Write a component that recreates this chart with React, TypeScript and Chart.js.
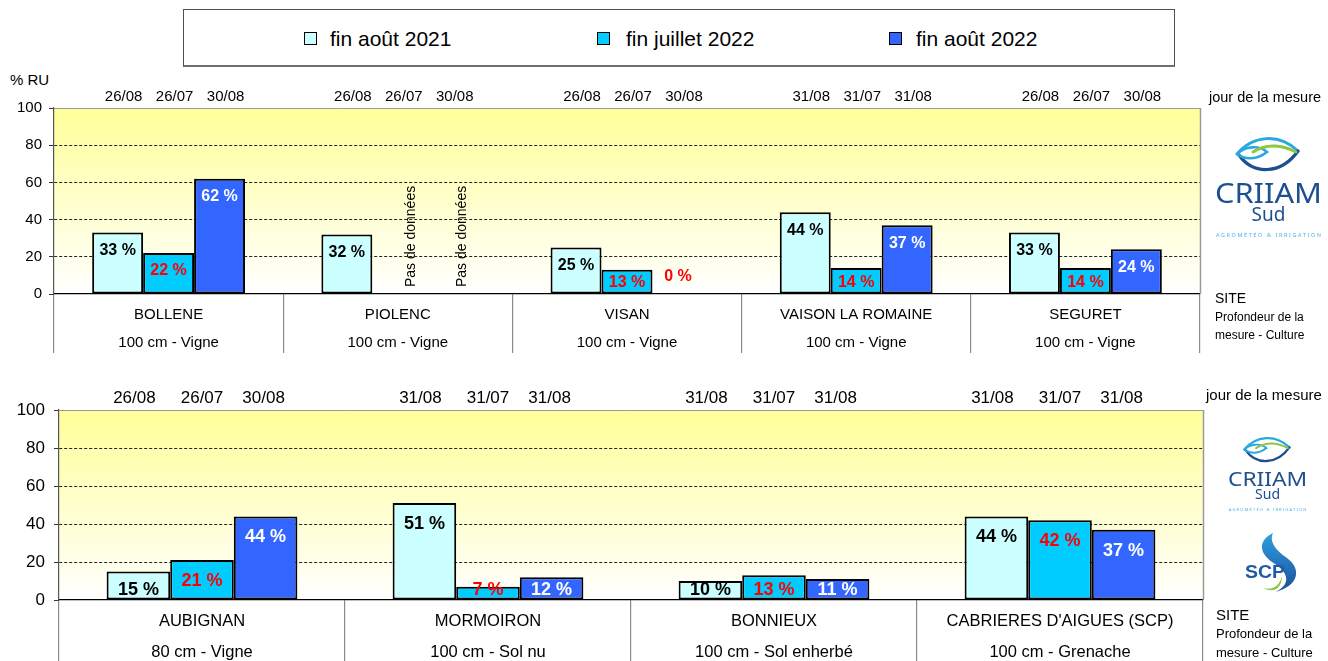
import React, { useEffect, useRef } from 'react';
import { Chart, registerables } from 'chart.js';

Chart.register(...registerables);

// ---------- DATA ----------
const seriesLabels = ['fin août 2021', 'fin juillet 2022', 'fin août 2022'];
const seriesColors = ['#CCFFFF', '#00CCFF', '#3366FF'];
const valueLabelColors = ['#000000', '#FF0000', '#FFFFFF'];
const yTickValues = [0, 20, 40, 60, 80, 100];
const noDataText = 'Pas de données';

const topSites = ['BOLLENE', 'PIOLENC', 'VISAN', 'VAISON LA ROMAINE', 'SEGURET'];
const topDepths = ['100 cm - Vigne', '100 cm - Vigne', '100 cm - Vigne', '100 cm - Vigne', '100 cm - Vigne'];
const topAug2021 = [33, 32, 25, 44, 33];
const topJul2022: (number | null)[] = [22, null, 13, 14, 14];
const topAug2022: (number | null)[] = [62, null, 0, 37, 24];
const topDatesAug2021 = ['26/08', '26/08', '26/08', '31/08', '26/08'];
const topDatesJul2022 = ['26/07', '26/07', '26/07', '31/07', '26/07'];
const topDatesAug2022 = ['30/08', '30/08', '30/08', '31/08', '30/08'];

const bottomSites = ['AUBIGNAN', 'MORMOIRON', 'BONNIEUX', "CABRIERES D'AIGUES (SCP)"];
const bottomDepths = ['80 cm - Vigne', '100 cm - Sol nu', '100 cm - Sol enherbé', '100 cm - Grenache'];
const bottomAug2021 = [15, 51, 10, 44];
const bottomJul2022 = [21, 7, 13, 42];
const bottomAug2022 = [44, 12, 11, 37];
const bottomDatesAug2021 = ['26/08', '31/08', '31/08', '31/08'];
const bottomDatesJul2022 = ['26/07', '31/07', '31/07', '31/07'];
const bottomDatesAug2022 = ['30/08', '31/08', '31/08', '31/08'];

// ---------- STYLE ----------
const FONT = "'Liberation Sans', Arial, Helvetica, sans-serif";
const CAT_PCT = 0.667;

interface PanelCfg {
  top: number;
  height: number;
  sites: string[];
  depths: string[];
  series: (number | null)[][];
  dates: string[][];
  padTop: number;
  padBottom: number;
  padRight: number;
  yAxisW: number;
  xAxisH: number;
  tickLen: number;
  xPad: number;
  xFont: number;
  xLineH: number;
  yFont: number;
  yTickLen: number;
  yPad: number;
  valFont: number;
  valOff: number;
  valMin: number;
  zeroOff: number;
  dateFont: number;
  dateDy: number;
  dateDx: number[];
  noDataDx: number;
}

const topCfg: PanelCfg = {
  top: 60,
  height: 300,
  sites: topSites,
  depths: topDepths,
  series: [topAug2021, topJul2022, topAug2022],
  dates: [topDatesAug2021, topDatesJul2022, topDatesAug2022],
  padTop: 48,
  padBottom: 6,
  padRight: 128,
  yAxisW: 54,
  xAxisH: 60,
  tickLen: 59,
  xPad: -52,
  xFont: 15,
  xLineH: 28 / 15,
  yFont: 15,
  yTickLen: 5,
  yPad: 7,
  valFont: 16,
  valOff: 18,
  valMin: 11,
  zeroOff: 17,
  dateFont: 15,
  dateDy: 11,
  dateDx: [6, 6, 6],
  noDataDx: 13,
};

const bottomCfg: PanelCfg = {
  top: 360,
  height: 301,
  sites: bottomSites,
  depths: bottomDepths,
  series: [bottomAug2021, bottomJul2022, bottomAug2022],
  dates: [bottomDatesAug2021, bottomDatesJul2022, bottomDatesAug2022],
  padTop: 50,
  padBottom: 0,
  padRight: 125,
  yAxisW: 59,
  xAxisH: 61,
  tickLen: 62,
  xPad: -56.5,
  xFont: 16.5,
  xLineH: 31 / 16.5,
  yFont: 17,
  yTickLen: 5,
  yPad: 9,
  valFont: 18,
  valOff: 21,
  valMin: 10,
  zeroOff: 17,
  dateFont: 17,
  dateDy: 12,
  dateDx: [-4, 0, -2],
  noDataDx: 13,
};

function makeBgPlugin(id: string) {
  return {
    id,
    beforeDraw(chart: any) {
      const { ctx, chartArea: a } = chart;
      const g = ctx.createLinearGradient(0, a.top, 0, a.bottom);
      g.addColorStop(0, '#FFFF99');
      g.addColorStop(1, '#FFFFFF');
      ctx.save();
      ctx.fillStyle = g;
      ctx.fillRect(a.left, a.top, a.right - a.left, a.bottom - a.top);
      ctx.restore();
    },
    beforeDatasetsDraw(chart: any) {
      const { ctx, chartArea: a } = chart;
      ctx.save();
      ctx.strokeStyle = '#9a9a9a';
      ctx.lineWidth = 1.5;
      const x = Math.round(a.right) + 0.5;
      ctx.beginPath();
      ctx.moveTo(x, a.top);
      ctx.lineTo(x, a.bottom);
      ctx.stroke();
      ctx.restore();
    },
  };
}

function makeLabelPlugin(id: string, cfg: PanelCfg) {
  return {
    id,
    afterDatasetsDraw(chart: any) {
      const { ctx, chartArea: area } = chart;
      const xs = chart.scales.x;
      const bw = ((xs.getPixelForValue(1) - xs.getPixelForValue(0)) * CAT_PCT) / 3;
      ctx.save();
      ctx.textAlign = 'center';
      ctx.textBaseline = 'middle';
      cfg.series.forEach((data, i) => {
        const meta = chart.getDatasetMeta(i);
        data.forEach((v, j) => {
          const el: any = meta.data[j];
          const x = el && isFinite(el.x) ? el.x : xs.getPixelForValue(j) + (i - 1) * bw;
          // date of measure
          ctx.font = `${cfg.dateFont}px ${FONT}`;
          ctx.fillStyle = '#000';
          ctx.fillText(cfg.dates[i][j], x + cfg.dateDx[i], area.top - cfg.dateDy);
          if (v == null) {
            ctx.save();
            ctx.translate(x + cfg.noDataDx, area.bottom - 7);
            ctx.rotate(-Math.PI / 2);
            ctx.font = `14px ${FONT}`;
            ctx.textAlign = 'left';
            ctx.fillStyle = '#000';
            ctx.fillText(noDataText, 0, 0);
            ctx.restore();
          } else {
            let y = Math.min(el.y + cfg.valOff, area.bottom - cfg.valMin);
            if (v === 0) y = area.bottom - cfg.zeroOff;
            ctx.font = `bold ${cfg.valFont}px ${FONT}`;
            ctx.fillStyle = v === 0 ? '#FF0000' : valueLabelColors[i];
            ctx.fillText(`${v} %`, x, y);
          }
        });
      });
      ctx.restore();
    },
  };
}

function Panel({ cfg, name }: { cfg: PanelCfg; name: string }) {
  const ref = useRef<HTMLCanvasElement>(null);
  useEffect(() => {
    const chart = new Chart(ref.current as HTMLCanvasElement, {
      type: 'bar',
      data: {
        labels: cfg.sites.map((s, i) => [s, cfg.depths[i]]),
        datasets: cfg.series.map((d, i) => ({
          label: seriesLabels[i],
          data: d,
          backgroundColor: seriesColors[i],
          borderColor: '#000000',
          borderWidth: 2,
          borderSkipped: false,
          categoryPercentage: CAT_PCT,
          barPercentage: 1,
        })),
      } as any,
      options: {
        responsive: false,
        animation: false,
        events: [],
        layout: { padding: { left: 0, right: cfg.padRight, top: cfg.padTop, bottom: cfg.padBottom } },
        plugins: { legend: { display: false }, tooltip: { enabled: false } },
        scales: {
          x: {
            offset: true,
            grid: {
              display: true,
              offset: true,
              drawOnChartArea: false,
              drawTicks: true,
              tickLength: cfg.tickLen,
              color: '#8a8a8a',
              lineWidth: 1.2,
            },
            border: { display: true, color: '#000000', width: 1.2 },
            ticks: {
              font: { family: FONT, size: cfg.xFont, lineHeight: cfg.xLineH },
              color: '#000',
              padding: cfg.xPad,
              maxRotation: 0,
              minRotation: 0,
              autoSkip: false,
            },
            afterFit: (s: any) => {
              s.height = cfg.xAxisH;
            },
          },
          y: {
            min: yTickValues[0],
            max: yTickValues[yTickValues.length - 1],
            afterBuildTicks: (s: any) => {
              s.ticks = yTickValues.map((v) => ({ value: v }));
            },
            ticks: {
              font: { family: FONT, size: cfg.yFont },
              color: '#000',
              padding: cfg.yPad,
            },
            grid: {
              drawTicks: true,
              tickLength: cfg.yTickLen,
              tickColor: '#333',
              lineWidth: 1,
              color: (c: any) =>
                c.tick && c.tick.value === 0 ? 'rgba(0,0,0,0)' : c.tick && c.tick.value === 100 ? '#9a9a9a' : '#222',
            },
            border: {
              display: true,
              color: '#555',
              width: 1.2,
              dash: (c: any) => (c.tick && c.tick.value === 100 ? [] : [3, 2]),
            },
            afterFit: (s: any) => {
              s.width = cfg.yAxisW;
            },
          },
        },
      } as any,
      plugins: [makeBgPlugin('bg' + name), makeLabelPlugin('lbl' + name, cfg)],
    });
    return () => chart.destroy();
  }, []);
  return (
    <canvas
      ref={ref}
      width={1328}
      height={cfg.height}
      style={{ position: 'absolute', left: 0, top: cfg.top, width: 1328, height: cfg.height, display: 'block' }}
    />
  );
}

function T({ x, cy, size, children, style }: { x: number; cy: number; size: number; children: any; style?: any }) {
  const lh = Math.round(size * 1.4);
  return (
    <div
      style={{
        position: 'absolute',
        left: x,
        top: cy - lh / 2,
        height: lh,
        lineHeight: `${lh}px`,
        fontSize: size,
        fontFamily: FONT,
        color: '#000',
        whiteSpace: 'nowrap',
        ...style,
      }}
    >
      {children}
    </div>
  );
}

function CriiamLogo({ x, y, s }: { x: number; y: number; s: number }) {
  return (
    <g transform={`translate(${x},${y}) scale(${s})`}>
      <g transform="translate(20,0)" fill="none" strokeLinecap="round">
        <path d="M2,17 C18,-2 44,-4 63,14" stroke="#2aa8e0" strokeWidth="3" />
        <path d="M4,18 C18,38 46,38 63,14" stroke="#1d4f91" strokeWidth="3.2" />
        <path d="M2,17 C10,9 24,8 32,15 C22,23 10,23 2,17" stroke="#2aa8e0" strokeWidth="2.6" />
        <path d="M18,15 C32,6 48,8 61,15" stroke="#8dc63f" strokeWidth="2.8" />
      </g>
      <text x="0" y="66" fontFamily="'Noto Sans', 'Open Sans', sans-serif" fontSize="28" fill="#1d4f91" textLength="107" lengthAdjust="spacingAndGlyphs">
        CRIIAM
      </text>
      <text x="53.5" y="84" textAnchor="middle" fontFamily="'Noto Sans', 'Open Sans', sans-serif" fontSize="19" fill="#1d4f91">
        Sud
      </text>
      <text x="1" y="100" fontFamily="'Noto Sans', sans-serif" fontSize="5.5" fill="#4fb3e8" textLength="105" lengthAdjust="spacing">
        AGROMÉTÉO &amp; IRRIGATION
      </text>
    </g>
  );
}

function ScpLogo({ x, y }: { x: number; y: number }) {
  return (
    <g transform={`translate(${x},${y})`}>
      <defs>
        <linearGradient id="scpg" x1="0" y1="0" x2="0" y2="1">
          <stop offset="0" stopColor="#2f9fe0" />
          <stop offset="1" stopColor="#1b4f9c" />
        </linearGradient>
      </defs>
      <path d="M28,0 C12,8 14,21 30,31 C44,40 46,52 30,59 C54,53 57,36 42,25 C30,17 24,8 28,0 Z" fill="url(#scpg)" />
      <path d="M18,55 C28,58 35,52 37,43 C37,54 30,61 18,55 Z" fill="#8dc63f" />
      <text x="0" y="45" fontFamily={FONT} fontWeight="bold" fontSize="18" fill="#1f5aa6" textLength="40" lengthAdjust="spacingAndGlyphs">
        SCP
      </text>
    </g>
  );
}

export default function App() {
  const legendMarkerX = [304, 597, 889];
  const legendTextX = [330, 626, 916];
  return (
    <div
      style={{
        position: 'fixed',
        left: 0,
        top: 0,
        width: 1328,
        height: 661,
        background: '#fff',
        overflow: 'hidden',
        fontFamily: FONT,
      }}
    >
      {/* legend */}
      <div
        style={{
          position: 'absolute',
          left: 183,
          top: 9,
          width: 992,
          height: 58,
          border: '1px solid #505050',
          borderBottom: '2px solid #707070',
          boxSizing: 'border-box',
        }}
      />
      {seriesLabels.map((l, i) => (
        <React.Fragment key={l}>
          <div
            style={{
              position: 'absolute',
              left: legendMarkerX[i],
              top: 32,
              width: 13,
              height: 13,
              background: seriesColors[i],
              border: '1px solid #000',
              boxSizing: 'border-box',
            }}
          />
          <T x={legendTextX[i]} cy={38} size={21}>
            {l}
          </T>
        </React.Fragment>
      ))}

      <T x={10} cy={79} size={15}>
        % RU
      </T>

      <Panel cfg={topCfg} name="top" />
      <Panel cfg={bottomCfg} name="bottom" />

      {/* right column */}
      <T x={1209} cy={97} size={14.5}>
        jour de la mesure
      </T>
      <T x={1206} cy={394} size={15}>
        jour de la mesure
      </T>
      <T x={1215} cy={298} size={14}>
        SITE
      </T>
      <T x={1215} cy={317} size={12}>
        Profondeur de la
      </T>
      <T x={1215} cy={335} size={12}>
        mesure - Culture
      </T>
      <T x={1216} cy={614} size={15}>
        SITE
      </T>
      <T x={1216} cy={634} size={13}>
        Profondeur de la
      </T>
      <T x={1216} cy={653} size={13}>
        mesure - Culture
      </T>

      <svg
        width={128}
        height={661}
        viewBox="1200 0 128 661"
        style={{ position: 'absolute', left: 1200, top: 0, pointerEvents: 'none' }}
      >
        <CriiamLogo x={1215} y={137} s={1} />
        <CriiamLogo x={1228} y={437} s={0.74} />
        <ScpLogo x={1245} y={533} />
      </svg>
    </div>
  );
}
